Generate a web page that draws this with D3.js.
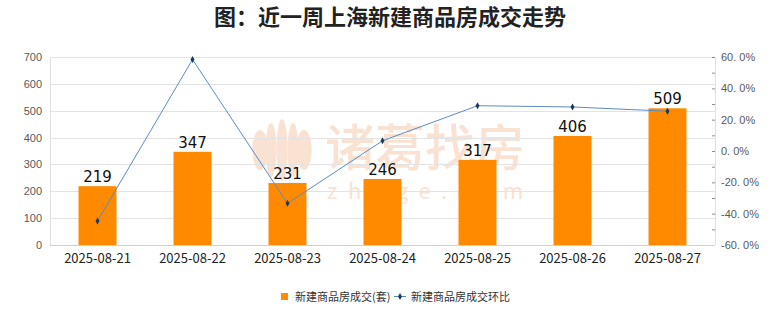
<!DOCTYPE html>
<html>
<head>
<meta charset="utf-8">
<script src="https://cdn.jsdelivr.net/npm/d3@7/dist/d3.min.js"></script>
<style>
  html, body { margin: 0; padding: 0; background: #fff; }
  svg { display: block; font-family: "Noto Sans CJK SC", "Noto Sans", sans-serif; }
</style>
</head>
<body>
<svg id="chart" width="780" height="328"></svg>
<script>
// Daily data for the last week
const dates = ["2025-08-21", "2025-08-22", "2025-08-23", "2025-08-24", "2025-08-25", "2025-08-26", "2025-08-27"];
const deals = [219, 347, 231, 246, 317, 406, 509];            // units sold
const changePct = [-44.7, 58.4, -33.4, 6.5, 28.9, 28.1, 25.4]; // day-over-day change, %
const leftTicks = [0, 100, 200, 300, 400, 500, 600, 700];
const rightTicks = [-60, -40, -20, 0, 20, 40, 60];
const rightMinorTicks = [-60, -50, -40, -30, -20, -10, 0, 10, 20, 30, 40, 50, 60];

const titleText = "图：近一周上海新建商品房成交走势";
const barName = "新建商品房成交(套)";
const lineName = "新建商品房成交环比";

const svg = d3.select("#chart");
const W = 780, H = 328;
const m = { left: 50, right: 65, top: 57, bottom: 83 };
const x0 = m.left, x1 = W - m.right, y0 = H - m.bottom, y1 = m.top;

const x = d3.scaleBand().domain(dates).range([x0, x1]).paddingInner(0.6).paddingOuter(0.3);
const xc = d3.scaleBand().domain(dates).range([x0, x1]);
const yL = d3.scaleLinear().domain([0, 700]).range([y0, y1]);
const yR = d3.scaleLinear().domain([-60, 60]).range([y0, y1]);

// Title
svg.append("text")
  .attr("x", 390).attr("y", 25)
  .attr("text-anchor", "middle")
  .attr("font-size", 22).attr("font-weight", 700)
  .attr("fill", "#222")
  .text(titleText);

// Brand watermark (drawn first so the chart sits on top)
const wmColor = "#f9e2d2";
const wm = svg.append("g");
const petals = [[-22, 14, 20], [-11, 10, 27], [0, 10, 31], [11, 10, 27], [22, 14, 20]];
petals.forEach(([dx, rx, ry]) => wm.append("ellipse")
  .attr("cx", 282 + dx).attr("cy", 150).attr("rx", rx * 0.55).attr("ry", ry)
  .attr("fill", wmColor));
wm.append("text").attr("x", 325).attr("y", 166)
  .attr("font-size", 50).attr("font-weight", 500).attr("fill", wmColor)
  .attr("textLength", 200).text("诸葛找房");
wm.append("text").attr("x", 327).attr("y", 199)
  .attr("font-size", 22).attr("fill", wmColor)
  .attr("textLength", 196).attr("lengthAdjust", "spacing").text("zhuge.com");

// Gridlines
svg.append("g").selectAll("line").data(leftTicks).join("line")
  .attr("x1", x0).attr("x2", x1)
  .attr("y1", d => Math.round(yL(d)) + 0.5).attr("y2", d => Math.round(yL(d)) + 0.5)
  .attr("stroke", "#e3e3e3").attr("stroke-width", 1);

// Frame verticals
[x0, x1].forEach(xx => svg.append("line")
  .attr("x1", xx + 0.5).attr("x2", xx + 0.5).attr("y1", y1).attr("y2", y0)
  .attr("stroke", "#e0e0e0"));

// Left axis labels
svg.append("g").attr("transform", `translate(${x0},0)`)
  .call(d3.axisLeft(yL).tickValues(leftTicks).tickSize(0).tickPadding(8))
  .call(g => g.select(".domain").remove())
  .call(g => g.selectAll("text").attr("font-size", 11).attr("fill", "#595959")
    .attr("font-family", "'Liberation Sans', Arial, sans-serif"));

// Right axis with minor ticks
svg.append("g").attr("transform", `translate(${x1},0)`)
  .call(d3.axisLeft(yR).tickValues(rightMinorTicks).tickSize(3).tickFormat(""))
  .call(g => g.select(".domain").remove())
  .call(g => g.selectAll("line").attr("stroke", "#8c8c8c"));
svg.append("g").attr("transform", `translate(${x1},0)`)
  .call(d3.axisRight(yR).tickValues(rightTicks).tickSize(0).tickPadding(6)
    .tickFormat(d => d3.format(".1f")(d).replace("−", "-").replace(".", ". ") + "%"))
  .call(g => g.select(".domain").remove())
  .call(g => g.selectAll("text").attr("font-size", 11).attr("fill", "#595959")
    .attr("font-family", "'Liberation Sans', Arial, sans-serif"));

// Bottom axis
svg.append("g").attr("transform", `translate(0,${y0})`)
  .call(d3.axisBottom(xc).tickSize(0).tickPadding(9))
  .call(g => g.select(".domain").attr("stroke", "#d0d0d0").attr("d", `M${x0},0.5H${x1}`))
  .call(g => g.selectAll("text").attr("font-size", 13).attr("fill", "#222")
    .attr("font-family", "'Noto Sans CJK SC', sans-serif"));

// Bars
svg.append("g").selectAll("rect").data(dates).join("rect")
  .attr("x", d => x(d)).attr("width", x.bandwidth())
  .attr("y", (d, i) => yL(deals[i])).attr("height", (d, i) => y0 - yL(deals[i]))
  .attr("fill", "#ff8a00");

// Bar value labels
svg.append("g").selectAll("text").data(dates).join("text")
  .attr("x", d => x(d) + x.bandwidth() / 2)
  .attr("y", (d, i) => yL(deals[i]) - 4)
  .attr("text-anchor", "middle")
  .attr("font-size", 15).attr("fill", "#111")
  .attr("font-family", "'DejaVu Sans', sans-serif")
  .text((d, i) => deals[i]);

// Change line
const line = d3.line().x(d => xc(d[0]) + xc.bandwidth() / 2).y(d => yR(d[1]));
const pts = dates.map((d, i) => [d, changePct[i]]);
svg.append("path").datum(pts)
  .attr("d", line).attr("fill", "none")
  .attr("stroke", "#5b8cc4").attr("stroke-width", 1);
const diamond = d3.symbol().type(d3.symbolDiamond).size(14);
svg.append("g").selectAll("path").data(pts).join("path")
  .attr("d", diamond)
  .attr("transform", d => `translate(${xc(d[0]) + xc.bandwidth() / 2},${yR(d[1])})`)
  .attr("fill", "#1f3a5f");

// Legend
const lg = svg.append("g");
lg.append("rect").attr("x", 281).attr("y", 293).attr("width", 7).attr("height", 7).attr("fill", "#ff8a00");
lg.append("text").attr("x", 295).attr("y", 300.5).attr("font-size", 11).attr("fill", "#333").text(barName);
lg.append("line").attr("x1", 394).attr("x2", 406).attr("y1", 296.5).attr("y2", 296.5)
  .attr("stroke", "#5b8cc4").attr("stroke-width", 1);
lg.append("path").attr("d", diamond).attr("transform", "translate(400,296.5)").attr("fill", "#1f3a5f");
lg.append("text").attr("x", 411).attr("y", 300.5).attr("font-size", 11).attr("fill", "#333").text(lineName);
</script>
</body>
</html>
